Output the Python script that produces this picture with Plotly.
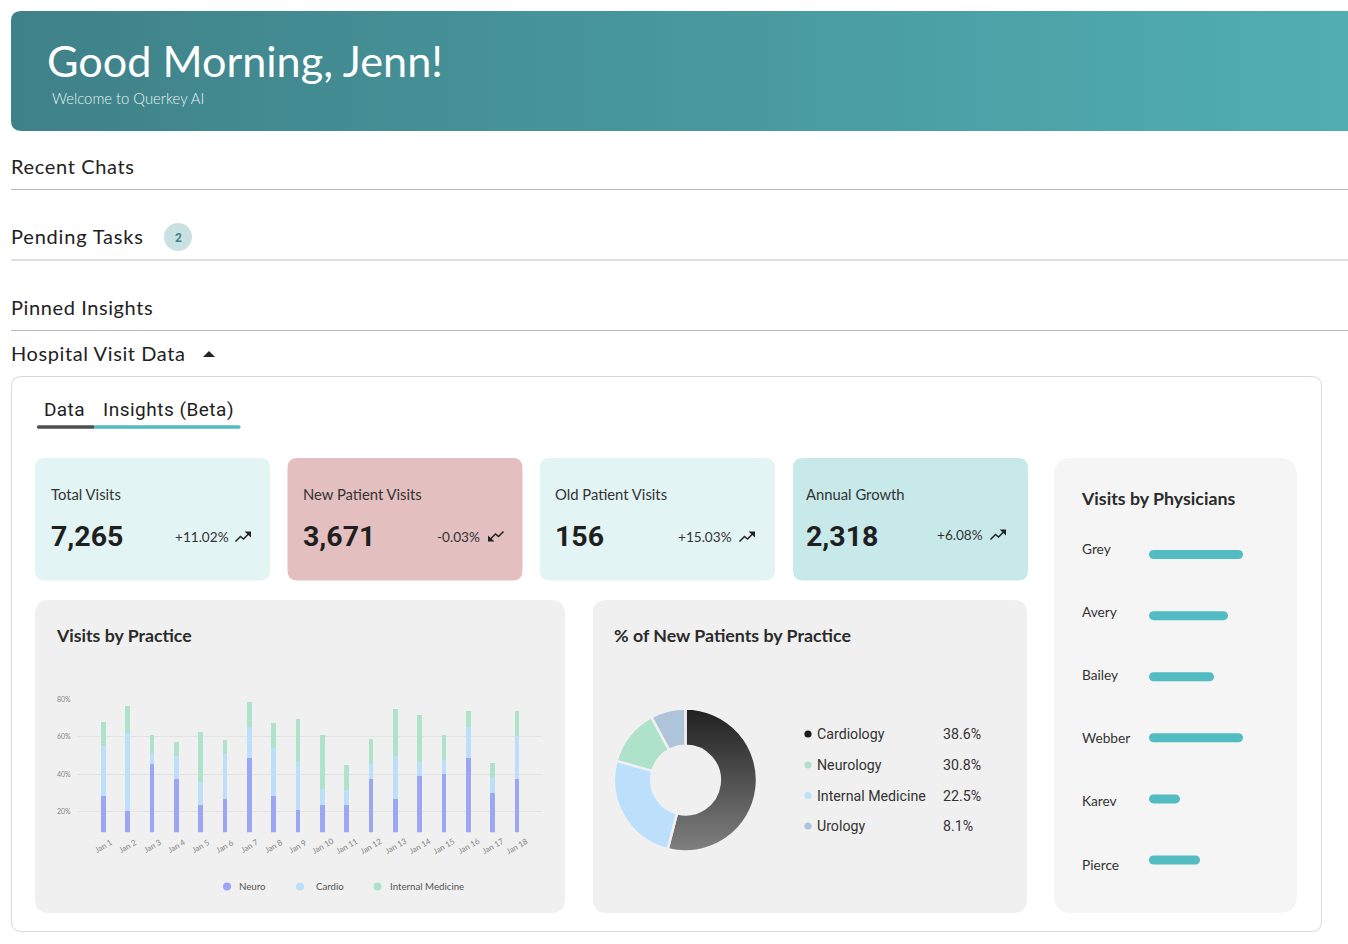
import plotly.graph_objects as go

W = 1348
H = 944

# 積み上げ棒グラフ（目盛りから読み取った値）
days = ["Jan 1", "Jan 2", "Jan 3", "Jan 4", "Jan 5", "Jan 6", "Jan 7", "Jan 8", "Jan 9",
        "Jan 10", "Jan 11", "Jan 12", "Jan 13", "Jan 14", "Jan 15", "Jan 16", "Jan 17", "Jan 18"]
neuro = [28.4, 20.0, 45.5, 37.4, 23.6, 26.8, 48.9, 28.1, 20.7, 23.6, 23.6, 37.4, 26.8, 38.7, 39.8, 48.9, 30.0, 37.4]
cardio = [26.8, 42.2, 6.1, 12.1, 12.0, 23.9, 16.7, 25.9, 25.9, 8.1, 7.9, 7.9, 23.2, 7.9, 8.0, 16.4, 8.0, 23.0]
internal = [12.6, 14.7, 9.4, 7.7, 27.3, 7.7, 13.3, 13.4, 23.3, 29.3, 13.5, 13.7, 24.8, 25.0, 13.5, 8.4, 8.2, 13.7]
bar_names = ["Neuro", "Cardio", "Internal Medicine"]
y_ticks = [20, 40, 60, 80]
y_tick_labels = ["20%", "40%", "60%", "80%"]

# ドーナツ（扇形の大きさは絵から、凡例の数字は文字から）
slice_names = ["Cardiology", "Internal Medicine", "Neurology", "Urology"]
slice_sizes = [54.0, 25.3, 12.8, 7.9]
legend_names = ["Cardiology", "Neurology", "Internal Medicine", "Urology"]
legend_pcts = ["38.6%", "30.8%", "22.5%", "8.1%"]

# 医師別
physicians = ["Grey", "Avery", "Bailey", "Webber", "Karev", "Pierce"]
physician_visits = [94, 79, 65, 94, 31, 51]

# KPIカード
kpi_titles = ["Total Visits", "New Patient Visits", "Old Patient Visits", "Annual Growth"]
kpi_values = ["7,265", "3,671", "156", "2,318"]
kpi_changes = ["+11.02%", "-0.03%", "+15.03%", "+6.08%"]

BODY = "Lato"
NUM = "Roboto"
DARK = "#222222"
TEAL = "#53bbc2"
BLUE = "#9ba6f5"
SKY = "#bce0fb"
MINT = "#aee2cb"
SLATE = "#adc4db"


def px(x):
    return x / W


def py(y):
    return 1 - y / H


def pt(x, y):
    return f"{px(x):.5f},{py(y):.5f}"


def round_rect(x0, y0, x1, y1, r):
    # 角丸の四角をpaper座標のパスにする
    return (f"M{pt(x0 + r, y0)} L{pt(x1 - r, y0)} Q{pt(x1, y0)} {pt(x1, y0 + r)} L{pt(x1, y1 - r)} "
            f"Q{pt(x1, y1)} {pt(x1 - r, y1)} L{pt(x0 + r, y1)} Q{pt(x0, y1)} {pt(x0, y1 - r)} "
            f"L{pt(x0, y0 + r)} Q{pt(x0, y0)} {pt(x0 + r, y0)} Z")


def poly(points, close=False):
    s = "M" + " L".join(pt(a, b) for a, b in points)
    return s + (" Z" if close else "")


shapes = []
annotations = []


def card(x0, y0, x1, y1, r, fill, line=None):
    shapes.append(dict(type="path", path=round_rect(x0, y0, x1, y1, r), xref="paper", yref="paper",
                       fillcolor=fill, line=dict(color=line or fill, width=1 if line else 0), layer="below"))


def rule(x0, x1, y, color, width=1):
    shapes.append(dict(type="line", xref="paper", yref="paper", x0=px(x0), x1=px(x1), y0=py(y), y1=py(y),
                       line=dict(color=color, width=width), layer="below"))


def dot(x, y, r, color):
    shapes.append(dict(type="circle", xref="paper", yref="paper", x0=px(x - r), x1=px(x + r),
                       y0=py(y + r), y1=py(y - r), fillcolor=color, line=dict(width=0), layer="below"))


def text(x, y, s, size, color=DARK, family=BODY, weight=400, anchor="left"):
    annotations.append(dict(x=px(x - 1 if anchor == "left" else x), y=py(y), xref="paper", yref="paper", text=s,
                            showarrow=False, xanchor=anchor, yanchor="middle", align=anchor, borderpad=0,
                            font=dict(family=family, size=size, color=color, weight=weight)))


def trend_icon(x, y, flip=False):
    # x,y はアイコンの左下、flipは180度回転（下向き）
    line_pts = [(0, 0), (5, -5), (8, -2.5), (14, -8.5)]
    head = [(9, -10), (15.5, -10), (15.5, -4)]
    if flip:
        line_pts = [(15 - a, -10 - b) for a, b in line_pts]
        head = [(15 - a, -10 - b) for a, b in head]
    shapes.append(dict(type="path", path=poly([(x + a, y + b) for a, b in line_pts]), xref="paper", yref="paper",
                       line=dict(color=DARK, width=1.5), layer="above"))
    shapes.append(dict(type="path", path=poly([(x + a, y + b) for a, b in head], True), xref="paper", yref="paper",
                       fillcolor=DARK, line=dict(width=0), layer="above"))


# ヘッダー（グラデーションは最後のスクリプトで入れる）
shapes.append(dict(type="path", xref="paper", yref="paper", layer="below", fillcolor="#489aa0", line=dict(width=0),
                   path=f"M{pt(21, 11)} L{pt(1348, 11)} L{pt(1348, 131)} L{pt(21, 131)} Q{pt(11, 131)} {pt(11, 121)} "
                        f"L{pt(11, 21)} Q{pt(11, 11)} {pt(21, 11)} Z"))
text(47, 60.5, "Good Morning, Jenn!", 43.2, "#ffffff")
text(52, 97.5, "Welcome to Querkey AI", 14.8, "#e4f2f3", weight=300)

text(11, 166, "Recent Chats", 20)
rule(11, 1348, 189.5, "#bdbdbd")
text(11, 236, "Pending Tasks", 20)
dot(178, 237, 14, "#c9e1e2")
text(178, 238, "2", 12, "#3f838a", NUM, 700, "center")
rule(11, 1348, 260, "#d4d4d4", 1.5)
text(11, 307, "Pinned Insights", 20)
rule(11, 1348, 330.5, "#bdbdbd")
text(11, 353, "Hospital Visit Data", 20)
shapes.append(dict(type="path", path=poly([(203, 357), (215, 357), (209, 351)], True), xref="paper", yref="paper",
                   fillcolor=DARK, line=dict(width=0), layer="below"))

# パネル
card(11.5, 376.5, 1321.5, 931.5, 10, "#ffffff", "#d9d9d9")
text(44, 409, "Data", 19, "#1e1e1e", NUM)
text(103, 409, "Insights (Beta)", 19, "#1e1e1e", NUM)
shapes.append(dict(type="path", path=round_rect(37, 425.2, 95, 428.8, 1.5), xref="paper", yref="paper",
                   fillcolor="#4f4f4f", line=dict(width=0), layer="below"))
shapes.append(dict(type="path", path=round_rect(94, 425.2, 240.5, 428.8, 1.5), xref="paper", yref="paper",
                   fillcolor=TEAL, line=dict(width=0), layer="below"))

# KPIカード
kpi_lefts = [35, 287.5, 540, 793]
kpi_text_x = [51, 303, 554.5, 806]
kpi_fills = ["#e3f4f4", "#e4bfbf", "#e3f4f4", "#c7e9ea"]
kpi_change_right = [229.5, 481, 733, 984]
kpi_icon_x = [235.5, 488.5, 739.5, 990.5]
kpi_change_y = [536.5, 536.5, 536.5, 534.5]
for i in range(4):
    x = kpi_lefts[i]
    card(x, 458, x + 235, 580.5, 10, kpi_fills[i])
    text(kpi_text_x[i], 494, kpi_titles[i], 14.8, "#333333")
    text(kpi_text_x[i], 536.5, kpi_values[i], 28.5, "#1f1f1f", NUM, 700)
    text(kpi_change_right[i], kpi_change_y[i], kpi_changes[i], 13.6, "#333333", anchor="right")
    trend_icon(kpi_icon_x[i], kpi_change_y[i] + 5, flip=(i == 1))

# 下段カード
card(35, 600, 565, 913, 14, "#f0f0f0")
card(593, 600, 1027, 913, 14, "#f0f0f0")
card(1054, 458, 1297, 913, 18, "#f5f5f5")
text(56, 635, "Visits by Practice", 17.7, "#2b2b2b", weight=700)
text(613.5, 635, "% of New Patients by Practice", 17.8, "#2b2b2b", weight=700)
text(1081, 497.5, "Visits by Physicians", 17.8, "#2b2b2b", weight=700)

# 棒グラフの凡例
bar_legend_x = [227, 300, 377.5]
bar_legend_text_x = [239.5, 315.5, 390]
bar_colors = [BLUE, SKY, MINT]
for i in range(3):
    dot(bar_legend_x[i], 886.5, 4, bar_colors[i])
    text(bar_legend_text_x[i], 885.7, bar_names[i], 9.7, "#555555")

# ドーナツの凡例
legend_colors = ["#1c1c1c", MINT, SKY, SLATE]
legend_y = [734, 765, 795.5, 826]
for i in range(4):
    dot(808, legend_y[i], 3.6, legend_colors[i])
    text(817, legend_y[i], legend_names[i], 14.2, "#333333", NUM)
    text(943, legend_y[i], legend_pcts[i], 14.2, "#333333", NUM)

# 医師名はバーと少しずれた位置にある
physician_label_y = [548, 611, 674, 737, 800, 864]
for name, y in zip(physicians, physician_label_y):
    text(1082, y, name, 13.7, "#333333")

# 日付ラベルは棒の真下に中央揃えで置く
for day in days:
    annotations.append(dict(x=day, y=py(845.5), xref="x", yref="paper", text=day, showarrow=False, textangle=-30,
                            xanchor="center", yanchor="middle", font=dict(family=BODY, size=8, color="#858585")))

fig = go.Figure()

for name, values, color in zip(bar_names, [neuro, cardio, internal], bar_colors):
    fig.add_trace(go.Bar(x=days, y=values, name=name, marker=dict(color=color, line=dict(width=0)),
                         width=0.2, xaxis="x", yaxis="y", showlegend=False))

# 両端を丸くしたいのでバーではなく太い線で描く（丸の分だけ内側に寄せる）
cap = 4.5
for name, v in zip(physicians, physician_visits):
    fig.add_trace(go.Scatter(x=[cap, v - cap], y=[name, name], mode="lines", name=name,
                             line=dict(color=TEAL, width=cap * 2), xaxis="x2", yaxis="y2", showlegend=False))

fig.add_trace(go.Pie(labels=slice_names, values=slice_sizes, hole=0.48, sort=False, direction="clockwise",
                     rotation=0, textinfo="none", showlegend=False,
                     marker=dict(colors=["#555555", SKY, MINT, SLATE], line=dict(color="#f0f0f0", width=2.5)),
                     domain=dict(x=[px(614), px(757)], y=[py(851.5), py(708.5)])))

fig.update_layout(
    width=W,
    height=H,
    margin=dict(l=0, r=0, t=0, b=0, autoexpand=False),
    paper_bgcolor="#ffffff",
    plot_bgcolor="rgba(0,0,0,0)",
    barmode="stack",
    shapes=shapes,
    annotations=annotations,
    font=dict(family=BODY),
    xaxis=dict(domain=[px(76.7), px(542)], range=[-1.095, 18.03], showgrid=False, zeroline=False,
               showline=False, ticks="", showticklabels=False, type="category"),
    yaxis=dict(domain=[py(832.2), py(699.8)], range=[8.7, 80], tickmode="array", tickvals=y_ticks,
               ticktext=y_tick_labels, gridcolor="#e3e3e3", gridwidth=1, zeroline=False, showline=False,
               ticks="", ticklabelstandoff=5, tickfont=dict(size=7, color="#858585")),
    xaxis2=dict(domain=[px(1149), px(1249)], range=[0, 100], visible=False, anchor="y2"),
    yaxis2=dict(domain=[py(890.5), py(524)], range=[5.5, -0.5], visible=False, anchor="x2", type="category"),
)

# 余白を消して、plotlyで出せないもの（グラデーション、字間、線の丸）をSVGに足す
post = """
var gd = document.getElementById('{plot_id}');
document.body.style.margin = '0';
document.body.style.overflow = 'hidden';
var ns = 'http://www.w3.org/2000/svg';
var defs = gd.querySelector('svg.main-svg defs');
function grad(id, x2, y2, c0, c1) {
  var g = document.createElementNS(ns, 'linearGradient');
  g.setAttribute('id', id);
  g.setAttribute('x1', '0'); g.setAttribute('y1', '0');
  g.setAttribute('x2', x2); g.setAttribute('y2', y2);
  [[0, c0], [1, c1]].forEach(function (s) {
    var st = document.createElementNS(ns, 'stop');
    st.setAttribute('offset', s[0]);
    st.setAttribute('stop-color', s[1]);
    g.appendChild(st);
  });
  defs.appendChild(g);
}
grad('hdrGrad', '1', '0', '#3f8188', '#50aeb3');
grad('pieGrad', '0', '1', '#202020', '#808080');
gd.querySelector('.layer-below .shapelayer path').style.fill = 'url(#hdrGrad)';
gd.querySelector('.slice path.surface').style.fill = 'url(#pieGrad)';
gd.querySelectorAll('.scatterlayer .js-line').forEach(function (p) { p.style.strokeLinecap = 'round'; });
var spaced = {'Recent Chats': 0.65, 'Pending Tasks': 0.8, 'Pinned Insights': 0.6, 'Hospital Visit Data': 0.6,
              'Data': 0.4, 'Insights (Beta)': 0.5};
gd.querySelectorAll('.annotation-text').forEach(function (t) {
  if (spaced[t.textContent]) t.style.letterSpacing = spaced[t.textContent] + 'px';
});
"""

fig.write_html("out.html", post_script=post, config={"displayModeBar": False})
